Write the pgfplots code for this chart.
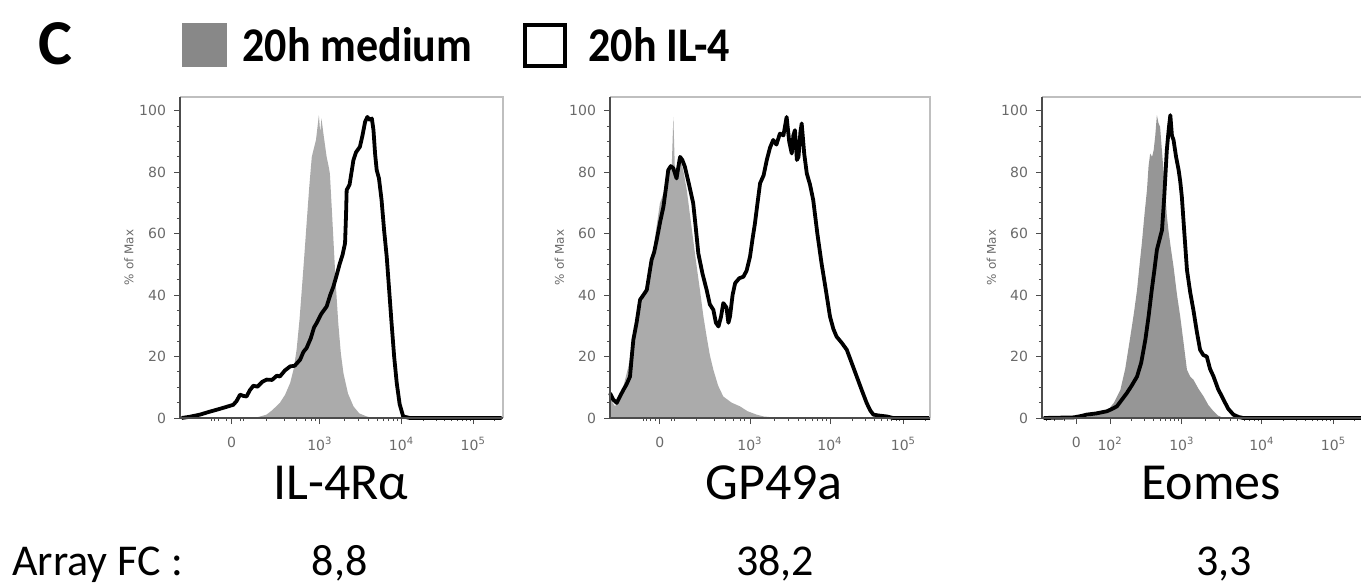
\documentclass[border=0pt]{standalone}
\usepackage{pgfplots}
\pgfplotsset{compat=1.18}
\usepackage{fontspec}
\setmainfont{Carlito}
\newfontfamily\tickfont{DejaVu Sans}
\definecolor{fillA}{HTML}{ABABAB}
\definecolor{fillC}{HTML}{969696}
\definecolor{legfill}{HTML}{888888}
\definecolor{tickgray}{HTML}{6A6A6A}

\pgfplotsset{
  flowaxis/.style={
    scale only axis, height=160.5pt,
    xmin=0, xmax=100, ymin=0, ymax=104.5,
    clip=false,
    axis line style={draw=none},
    tick align=outside,
    xtick pos=bottom, ytick pos=left,
    major tick length=3pt, minor tick length=1.6pt,
    every tick/.style={black!70, line width=0.5pt},
    ytick={0,20,40,60,80,100},
    yticklabels={0,20,40,60,80,100},
    minor ytick={5,10,15,25,30,35,45,50,55,65,70,75,85,90,95},
    ticklabel style={font=\tickfont\fontsize{7}{7}\selectfont, text=tickgray},
    xticklabel style={yshift=-3pt},
    yticklabel style={xshift=-0.5pt},
  },
  medium/.style={draw=none, fill=#1},
  il4/.style={black, line width=1.9pt, line join=round},
}

\newcommand{\frameandlabel}{%
  \draw[black!25, line width=0.6pt] (rel axis cs:0,1) -- (rel axis cs:1,1) -- (rel axis cs:1,0);
  \draw[black!70, line width=0.6pt] (rel axis cs:0,1) -- (rel axis cs:0,0) -- (rel axis cs:1,0);
  \node[rotate=90, font=\tickfont\fontsize{6}{6}\selectfont, text=tickgray] at (rel axis cs:-0.158,0.5) {\% of Max};
}

\begin{document}
\begin{tikzpicture}
\useasboundingbox (0,0) rectangle (680.5pt,-293.5pt);

% ---------------- Panel 1: IL-4Ralpha ----------------
\begin{axis}[flowaxis, at={(90pt,-209pt)}, anchor=south west, width=161.5pt,
  xtick={16.0,43.3,68.6,90.8},
  xticklabels={0,10\textsuperscript{3},10\textsuperscript{4},10\textsuperscript{5}},
  minor xtick={9.8,10.8,11.9,14.4,18.6,19.6,26.8,32.5,36.1,38.7,40.6,42.0,50.9,55.4,58.5,61.0,63.0,64.7,66.1,67.4,75.4,79.3,82.0,84.1,85.9,87.5,88.7,89.8,97.5}]
\addplot[medium=fillA] coordinates {
(0,0) (22.7,0) (24.5,0.4) (26.8,1.1) (28.5,2.5) (30.9,4.9) (32.5,7.5) (34.1,11.4) (35.2,16) (36.1,22.2) (37.0,32) (37.7,41.7) (38.5,53) (39.2,63.4) (40.0,75) (40.8,85.0) (41.5,88) (42.1,90.5) (42.6,95) (43.0,98.6) (43.4,93) (43.8,97.5) (44.4,92.6) (45.0,88) (45.4,85.0) (46.0,82) (46.4,79.6) (47.0,68) (47.5,58.0) (48.2,44) (49.0,30.9) (49.8,21) (50.6,14.6) (52,8) (53.7,3.8) (55.5,1.5) (57.8,0.5) (59.9,0) (100,0)
} \closedcycle;
\addplot[il4] coordinates {
(0.5,0) (3,0.4) (6.2,1.1) (9,2) (11.4,2.7) (14,3.5) (16.5,4.3) (17.5,5.5) (18.6,7.6) (19.6,7.2) (20.6,7.0) (21.6,9) (22.7,10.5) (24,10.2) (25.5,11.8) (26.8,12.5) (28.5,12.4) (30.0,13.8) (30.9,13.5) (32.5,15.5) (34.1,16.8) (35.5,17.0) (37.2,19.0) (38.2,21.5) (39.2,22.8) (40.5,26) (41.5,29.5) (42.3,30.9) (43.8,34) (45.4,36.3) (46.5,40) (47.5,42.8) (48.5,46.5) (49.5,50.4) (50.3,53) (51.1,56.9) (51.4,66) (51.6,74.2) (52.5,76) (53.7,84.0) (54.5,86.5) (55.7,88.3) (56.5,92) (57.3,96.4) (58.0,98) (58.8,97.0) (59.4,97.5) (59.9,93.7) (60.4,86) (60.9,80.7) (61.6,78) (62.4,71.0) (63.2,61) (64.0,52.5) (64.8,41) (65.5,30.9) (66.3,20) (67.1,11.4) (68.0,4.5) (69.1,0.5) (71.2,0) (99.6,0)
};
\frameandlabel
\end{axis}

% ---------------- Panel 2: GP49a ----------------
\begin{axis}[flowaxis, at={(305pt,-209pt)}, anchor=south west, width=160pt,
  xtick={15.6,43.75,68.75,91.7},
  xticklabels={0,10\textsuperscript{3},10\textsuperscript{4},10\textsuperscript{5}},
  minor xtick={10.4,11.5,12.5,14.1,19.3,20.3,27.0,32.5,36.0,38.7,40.7,42.0,51.3,55.7,58.8,61.2,63.2,64.9,66.3,67.6,75.7,79.7,82.6,84.8,86.6,88.1,89.5,90.6,98.6}]
\addplot[medium=fillA] coordinates {
(0,0) (0,7.0) (0.8,5) (1.6,3.8) (2.8,6) (4.2,10.3) (5.8,17) (7.3,26.5) (8.8,33) (10.4,39.5) (12,47) (13.5,54.7) (14.5,62) (15.6,69.9) (17,74) (18.2,78.5) (19.3,82) (19.8,98.0) (20.3,80) (21,82) (21.9,85.0) (23,80) (24.0,74.2) (25,66) (26.0,58.0) (27,50) (28.1,41.7) (29.2,33) (30.2,26.5) (31.2,20.5) (32.3,15.7) (33.8,10.5) (35.4,7.0) (38,5) (40.6,3.8) (43,2.2) (45.8,1.1) (48,0.5) (51.0,0.2) (59.4,0) (100,0)
} \closedcycle;
\addplot[il4] coordinates {
(0,8.1) (1,6) (2.1,4.9) (3.1,7) (4.2,9.2) (5.2,11) (6.25,13.5) (6.8,20) (7.3,25.5) (8.3,31) (9.4,38.5) (10.4,40) (11.5,41.7) (12.3,47) (13.0,51.5) (13.8,54) (14.6,58.0) (15.7,64) (16.7,68.8) (17.5,75) (18.2,80.7) (19.0,82) (19.8,81.3) (20.8,78.0) (21.4,82) (21.9,85.0) (22.6,84) (23.4,81.8) (24.7,76) (26.0,69.9) (26.8,62) (27.6,53.6) (28.9,47) (30.2,41.7) (31.2,37) (32.3,35.2) (33.1,31) (33.9,29.8) (34.7,33) (35.4,37.4) (36.4,36) (37.0,31) (37.5,33.0) (38.3,40) (39.1,43.9) (40.4,45.5) (41.7,46.0) (42.7,48) (43.75,52.5) (44.5,58) (45.3,63.4) (46.1,70) (46.9,76.4) (48,79) (49.0,84.0) (50,88) (51.0,90.5) (52,89) (53.1,92.6) (54.2,92) (55.2,98.0) (56,90) (56.8,86.1) (57.3,92) (57.8,93.7) (58.4,84) (58.9,85.0) (59.5,93) (59.9,95.9) (60.7,86) (61.5,79.6) (62.5,76) (63.5,71.0) (64.8,60) (66.1,50.4) (67.4,42) (68.75,33.0) (69.8,29) (70.8,26.5) (72.4,24.5) (74.0,22.2) (75.5,18) (77.1,13.5) (78.7,9) (80.2,4.9) (81.3,2.5) (82.3,1.1) (84,0.8) (86.5,0.5) (88.5,0) (100,0)
};
\frameandlabel
\end{axis}

% ---------------- Panel 3: Eomes ----------------
\begin{axis}[flowaxis, at={(521pt,-209pt)}, anchor=south west, width=160pt,
  xtick={10.7,21.3,43.7,68.7,91.1},
  xticklabels={0,10\textsuperscript{2},10\textsuperscript{3},10\textsuperscript{4},10\textsuperscript{5}},
  minor xtick={1.5,4.0,7.0,28.0,31.9,34.8,36.9,38.7,40.2,41.5,42.6,51.2,55.6,58.8,61.2,63.2,64.8,66.3,67.6,75.4,79.4,82.2,84.4,86.1,87.6,88.9,90.0,97.8}]
\addplot[medium=fillC] coordinates {
(0,0) (10.9,0) (15,0.6) (20.3,2.2) (22.5,5) (24.5,9.2) (26,16) (27.6,26.5) (28.7,34) (29.7,41.7) (30.5,50) (31.2,56.9) (32.0,66) (32.8,74.2) (33.3,82) (33.8,86.1) (34.4,85) (34.9,87.2) (35.4,92) (35.9,98.6) (36.4,96) (36.9,94.8) (37.7,84) (38.5,74.2) (39.0,66) (39.5,61.2) (40.3,55) (41.1,49.3) (42.2,40) (43.2,33.0) (44.3,24) (45.3,15.7) (46.3,13.5) (47.3,12.5) (48.9,9.5) (50.5,7.0) (52,4.2) (53.6,2.2) (55,0.8) (56.7,0) (100,0)
} \closedcycle;
\addplot[il4] coordinates {
(0.5,0) (9.9,0.2) (12,0.6) (14.0,1.1) (17,1.5) (20.3,2.2) (22,3) (23.4,3.8) (25,6) (26.5,8.1) (28,10.5) (29.7,13.5) (31,18) (32.3,25.5) (33.3,33) (34.3,41.7) (35.1,48) (35.9,54.7) (36.7,58) (37.5,61.2) (38.2,72) (39.0,87.2) (39.6,94) (40.1,98.6) (40.6,92) (41.1,90.5) (41.9,85) (42.7,80.7) (43.2,77) (43.7,72.0) (44.5,60) (45.3,48.2) (46.3,41) (47.3,35.2) (48.4,28) (49.4,22.2) (50.4,20.5) (51.5,20.0) (52.5,16) (53.6,13.5) (55,9.5) (56.7,6.0) (58.2,3) (59.8,1.1) (61.5,0.3) (62.9,0) (100,0)
};
\frameandlabel
\end{axis}

% ---------------- Texts and legend (pixel coordinates) ----------------
\begin{scope}[x=0.5pt, y=-0.5pt]
\node[font=\bfseries\fontsize{32}{32}\selectfont, anchor=base, inner sep=0] at (55,65) {C};
\fill[legfill] (182,23) rectangle (227,67);
\node[font=\bfseries\fontsize{22}{22}\selectfont, anchor=base west, inner sep=0, yscale=1.1] at (242,62) {20h medium};
\draw[line width=2pt] (525,25) rectangle (565,66);
\node[font=\bfseries\fontsize{22}{22}\selectfont, anchor=base west, inner sep=0, yscale=1.1] at (588,62) {20h IL-4};
\node[font=\fontsize{26}{26}\selectfont, anchor=base, inner sep=0] at (341,500) {IL-4Rα};
\node[font=\fontsize{26}{26}\selectfont, anchor=base, inner sep=0] at (774,500) {GP49a};
\node[font=\fontsize{26}{26}\selectfont, anchor=base, inner sep=0] at (1211,500) {Eomes};
\node[font=\fontsize{22}{22}\selectfont, anchor=base west, inner sep=0] at (12,575) {Array FC :};
\node[font=\fontsize{22}{22}\selectfont, anchor=base, inner sep=0] at (339.5,575) {8,8};
\node[font=\fontsize{22}{22}\selectfont, anchor=base, inner sep=0] at (775,575) {38,2};
\node[font=\fontsize{22}{22}\selectfont, anchor=base, inner sep=0] at (1224,575) {3,3};
\end{scope}
\end{tikzpicture}
\end{document}
